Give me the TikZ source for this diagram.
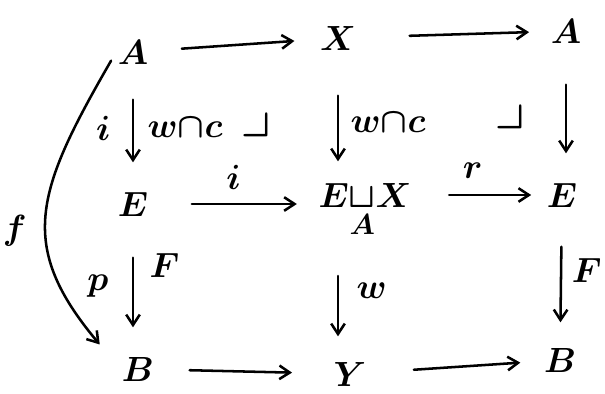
\documentclass[tikz,border=0pt]{standalone}
\usepackage{amsmath,amssymb}
\usetikzlibrary{positioning,arrows.meta}
\tikzset{
  obj/.style ={inner sep=1pt, font=\fontsize{34}{36}\selectfont\boldmath},
  lbl/.style ={inner sep=1pt, font=\fontsize{25}{27}\selectfont\boldmath},
  crn/.style ={inner sep=0pt, font=\fontsize{44}{46}\selectfont},
  cd/.style  ={-{Straight Barb[length=2.6mm,width=3.4mm]}, line width=1.8pt},
}

\begin{document}
\begin{tikzpicture}[x=0.025cm, y=-0.025cm, line cap=round]
  \useasboundingbox (0,0) rectangle (605,394);

  % objects
  \node[obj] (a1) at (133,52)  {$A$};
  \node[obj] (x1) at (338,38)  {$X$};
  \node[obj] (a2) at (566,31)  {$A$};
  \node[obj] (e1) at (133,204) {$E$};
  \node[obj, anchor=base, font=\fontsize{30}{32}\selectfont\boldmath]
        (ex) at (365,207) {$E{\underset{A}{\sqcup}}X$};
  \node[obj] (e2) at (562,195) {$E$};
  \node[obj] (b1) at (138,369) {$B$};
  \node[obj] (y1) at (350,374) {$Y$};
  \node[obj] (b2) at (560,360) {$B$};

  % corners
  \node[crn] (c1) at (256,124) {$\lrcorner$};
  \node[crn] (c2) at (510,116) {$\lrcorner$};

  % rows
  \draw[cd, shorten <=8mm, shorten >=6mm] (a1) -- (x1);
  \draw[cd, shorten <=13mm, shorten >=5mm] (x1) -- (a2);
  \draw[cd, shorten <=10.5mm, shorten >=5mm] (e1) -- node[lbl, above=3mm] {$i$} (e1 -| ex.west);
  \draw[cd, shorten <=9mm, shorten >=3.5mm] (ex.east |- e2) -- node[lbl, above=3.5mm, pos=0.45] {$r$} (e2);
  \draw[cd, shorten <=8.5mm, shorten >=10mm] (b1) -- (y1);
  \draw[cd, shorten <=11.5mm, shorten >=5.5mm] (y1) -- (b2);

  % columns
  \draw[cd, shorten <=8.5mm, shorten >=7mm] (a1) -- node[lbl, left=5mm] {$i$}
    node[lbl, right=3mm] {${w}{\cap}{c}$} (e1);
  \draw[cd, shorten <=11mm, shorten >=5mm] (x1) -- node[lbl, right=2.5mm, pos=0.55] {${w}{\cap}{c}$} (x1 |- ex.north);
  \draw[cd, shorten <=10mm, shorten >=7mm] (a2) -- (a2 |- e2.north);
  \draw[cd, shorten <=10mm, shorten >=7mm] (e1) -- node[lbl, left=5.5mm, pos=0.5] {$p$}
    node[lbl, right=3.5mm, pos=0.35] {$F$} (e1 |- b1.north);
  \draw[cd, shorten <=9mm, shorten >=6mm] (x1 |- ex.south) -- node[lbl, right=4mm, pos=0.42] {$w$} (x1 |- y1.north);
  \draw[cd, shorten <=9.5mm, shorten >=6mm] (e2) -- node[lbl, right=2mm, pos=0.45] {$F$} (b2);

  % composite
  \draw[cd, shorten <=2.5mm, shorten >=8mm] (a1.west) to[out=240, in=130, looseness=1.3]
    node[lbl, pos=0.55, left=5mm] {$f$} (b1.west);
\end{tikzpicture}
\end{document}
